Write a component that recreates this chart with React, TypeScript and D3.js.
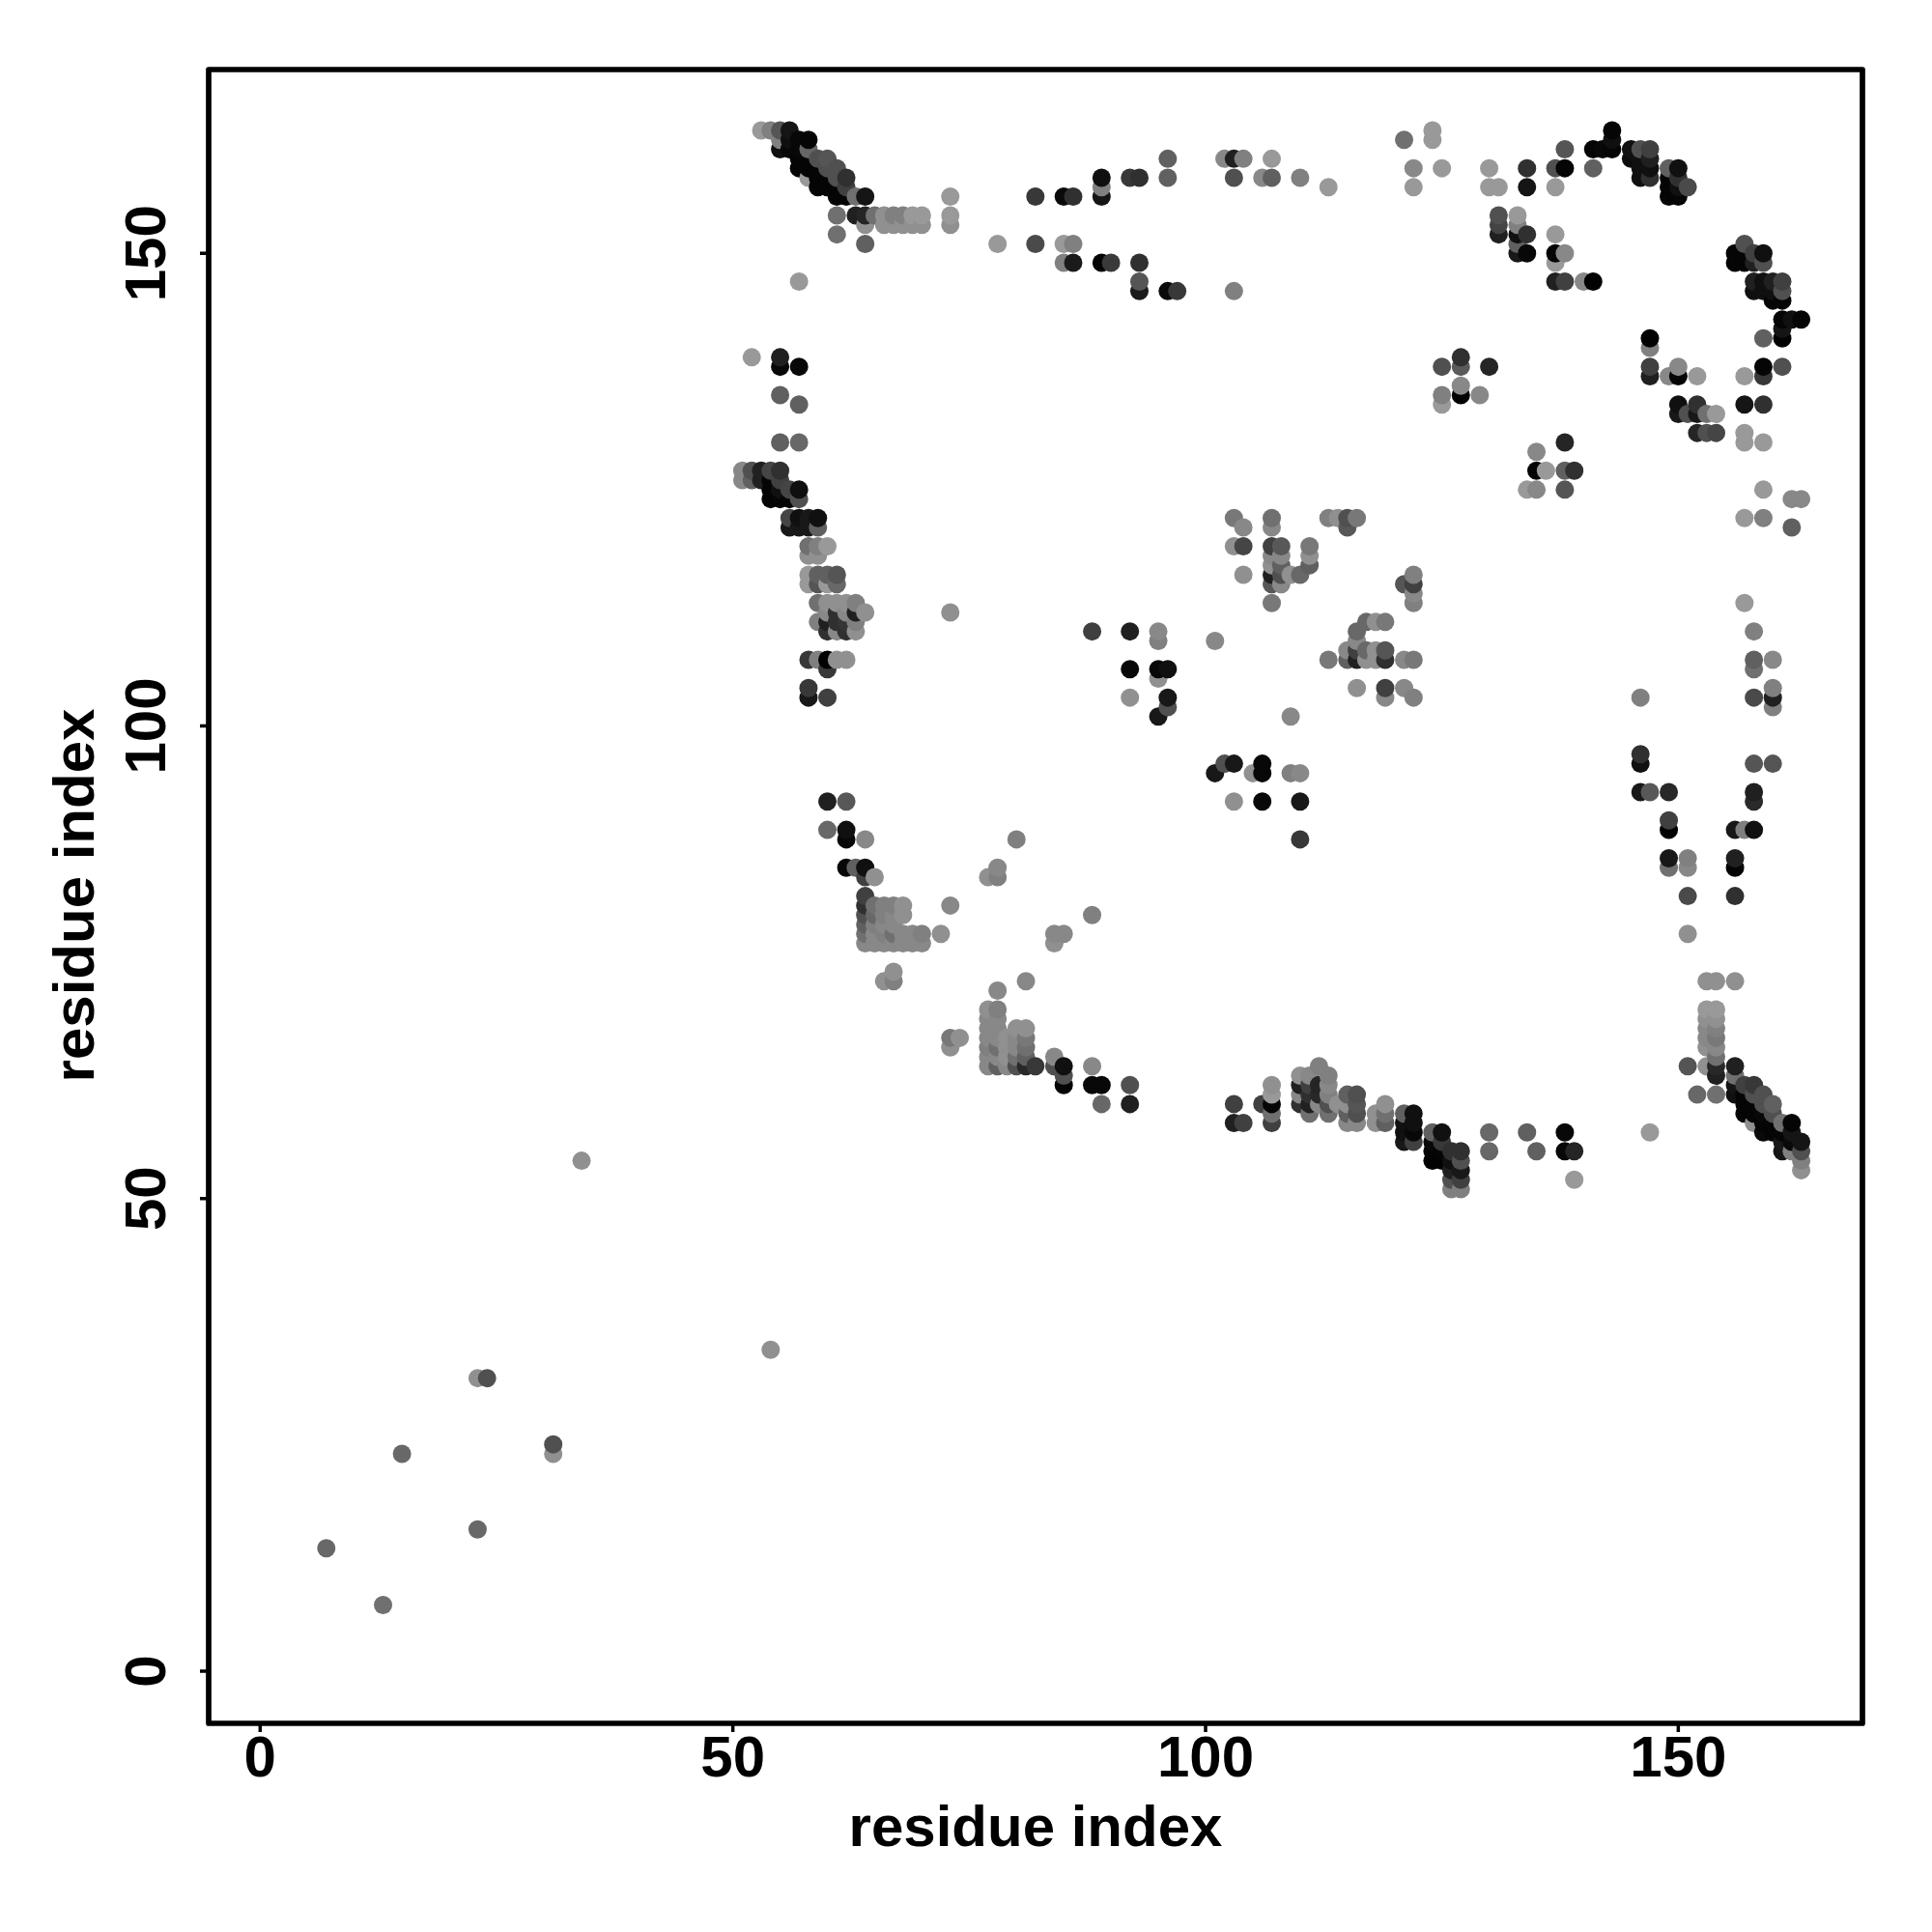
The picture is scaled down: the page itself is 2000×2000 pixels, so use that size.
import React from "react";
import * as d3 from "d3";

type Contact = [number, number, number]; // residue x, residue y, grey level

const tickValues = [0, 50, 100, 150];
const axisTitle = "residue index";

const lowerLeft: Contact[] = [
  [34,54,0x90],[54,34,0x90],[23,31,0x90],[24,31,0x50],[15,23,0x68],[31,24,0x50],[31,23,0x90],[23,15,0x68],[7,13,0x68],[13,7,0x70],
];

const topLeftArm: Contact[] = [
  [53,163,0x99],[54,163,0x80],[55,163,0x55],[56,163,0x15],
  [55,162,0x80],[56,162,0x10],[57,162,0x08],[58,162,0x05],
  [55,161,0x10],[56,161,0x08],[57,161,0x08],[58,161,0x66],
  [57,160,0x05],[58,160,0x05],[59,160,0x50],[60,160,0x55],
  [57,159,0x05],[58,159,0x05],[59,159,0x05],[60,159,0x50],[61,159,0x50],
  [58,158,0x99],[59,158,0x05],[60,158,0x05],[61,158,0x50],[62,158,0x30],
  [59,157,0x05],[60,157,0x05],[61,157,0x05],[62,157,0x40],
  [61,156,0x05],[62,156,0x05],[63,156,0x70],[64,156,0x15],
  [61,154,0x70],[63,154,0x20],[64,154,0x25],[65,154,0x70],[66,154,0x90],[67,154,0x80],[68,154,0x80],[69,154,0x99],[70,154,0x99],
  [64,153,0x90],[66,153,0x90],[67,153,0x90],[68,153,0x90],[69,153,0x90],[70,153,0x90],
  [61,152,0x70],[64,151,0x60],[57,147,0x99],
  [73,156,0x99],[73,154,0x99],[73,153,0x90],
];

const topMiddle: Contact[] = [
  [82,156,0x38],[85,156,0x0a],[86,156,0x30],[89,158,0x10],[89,157,0x80],[89,156,0x15],[92,158,0x38],[93,158,0x30],[96,160,0x60],[96,158,0x60],
  [78,151,0x99],[82,151,0x4a],[85,151,0x99],[86,151,0x80],[85,149,0x80],[86,149,0x1a],[89,149,0x05],[90,149,0x3a],[93,149,0x30],
  [93,147,0x55],[93,146,0x1a],[96,146,0x0a],[97,146,0x38],
  [102,160,0x88],[103,160,0x20],[104,160,0x80],[107,160,0x99],[103,158,0x50],[106,158,0x88],[107,158,0x60],[110,158,0x80],[113,157,0x99],[103,146,0x80],
  [122,157,0x99],[122,159,0x88],[125,159,0x99],[121,162,0x70],[124,162,0x99],[124,163,0x99],
];

const topRightArc: Contact[] = [
  [130,159,0x99],[130,157,0x99],[131,157,0x99],[134,159,0x30],[134,157,0x15],[137,159,0x50],[137,157,0x99],[138,159,0x05],[138,161,0x55],[141,159,0x60],
  [141,161,0x05],[142,161,0x08],[143,161,0x05],[143,162,0x10],[143,163,0x05],
  [145,161,0x10],[146,161,0x50],[147,161,0x40],[145,160,0x0c],[146,160,0x10],[147,160,0x20],[146,159,0x10],[147,159,0x10],[146,158,0x10],[147,158,0x30],
  [149,159,0x60],[150,159,0x10],[149,158,0x05],[150,158,0x30],[149,157,0x05],[150,157,0x10],[151,157,0x4a],[149,156,0x05],[150,156,0x05],
  [131,154,0x50],[133,154,0x99],[131,153,0x44],[133,153,0x80],[131,152,0x20],[133,152,0x10],[134,152,0x30],[137,152,0x99],[133,151,0x60],
  [133,150,0x18],[134,150,0x08],[137,150,0x05],[138,150,0x88],[137,149,0x99],[137,147,0x20],[138,147,0x40],[140,147,0x88],[141,147,0x02],
  [157,151,0x50],[156,150,0x05],[157,150,0x05],[158,150,0x40],[159,150,0x10],[156,149,0x05],[157,149,0x05],[158,149,0x20],[159,149,0x50],
  [158,147,0x20],[159,147,0x10],[160,147,0x20],[161,147,0x40],[158,146,0x10],[159,146,0x10],[160,146,0x10],[161,146,0x50],[160,145,0x05],[161,145,0x05],
  [161,143,0x05],[162,143,0x10],[163,143,0x05],[161,142,0x15],[147,141,0x02],[159,141,0x60],[161,141,0x02],[147,140,0x80],
];

const upperCentreRight: Contact[] = [
  [125,138,0x50],[127,139,0x30],[127,138,0x5a],[130,138,0x25],[127,136,0x88],[125,135,0x80],[127,135,0x02],[129,135,0x88],[125,134,0x99],
  [147,138,0x40],[150,138,0x88],[159,138,0x05],[161,138,0x50],[147,137,0x20],[149,137,0x88],[150,137,0x05],[152,137,0x99],[157,137,0x99],[159,137,0x38],
  [150,134,0x10],[152,134,0x30],[157,134,0x15],[159,134,0x30],[150,133,0x18],[151,133,0x50],[152,133,0x18],[153,133,0x70],[154,133,0x99],
  [152,131,0x25],[153,131,0x50],[154,131,0x45],[157,131,0x99],[138,130,0x25],[157,130,0x99],[159,130,0x99],[135,129,0x88],
  [135,127,0x02],[136,127,0x99],[138,127,0x60],[139,127,0x30],[134,125,0x99],[135,125,0x88],[138,125,0x55],
  [159,125,0x99],[162,124,0x88],[163,124,0x88],[157,122,0x99],[159,122,0x80],[162,121,0x60],
];

const leftColumn: Contact[] = [
  [52,139,0x99],[55,139,0x20],[55,138,0x08],[57,138,0x08],[55,135,0x60],[57,134,0x60],[55,130,0x60],[57,130,0x68],
  [51,127,0x88],[52,127,0x50],[53,127,0x20],[54,127,0x45],[55,127,0x30],
  [51,126,0x88],[52,126,0x60],[53,126,0x20],[54,126,0x05],[55,126,0x40],
  [54,125,0x05],[55,125,0x10],[56,125,0x45],[57,125,0x0f],[54,124,0x05],[55,124,0x05],[56,124,0x05],[57,124,0x50],
  [56,122,0x45],[57,122,0x10],[58,122,0x18],[59,122,0x10],[56,121,0x18],[57,121,0x18],[58,121,0x18],[59,121,0x60],
  [58,119,0x70],[59,119,0x80],[60,119,0x99],[58,118,0x90],[59,118,0x90],
  [58,116,0x99],[59,116,0x60],[60,116,0x60],[61,116,0x55],[58,115,0x99],[59,115,0x55],[60,115,0x99],[61,115,0x68],
  [59,113,0x70],[60,113,0x90],[61,113,0x90],[62,113,0x90],[63,113,0x80],
  [60,112,0x88],[61,112,0x30],[62,112,0x88],[63,112,0x20],[64,112,0x90],[73,112,0x90],
  [59,111,0x80],[60,111,0x20],[61,111,0x30],[62,111,0x35],[63,111,0x80],[60,110,0x30],[61,110,0x88],[62,110,0x30],[63,110,0x90],
  [58,107,0x38],[59,107,0x80],[60,107,0x02],[61,107,0x90],[62,107,0x90],[60,106,0x38],[58,104,0x38],[58,103,0x18],[60,103,0x40],
];

const centreCluster: Contact[] = [
  [103,122,0x78],[107,122,0x70],[113,122,0x80],[114,122,0x90],[115,122,0x50],[116,122,0x78],
  [104,121,0x88],[107,121,0x88],[115,121,0x58],
  [103,119,0x90],[104,119,0x45],[107,119,0x40],[108,119,0x58],[111,119,0x78],
  [107,118,0x88],[108,118,0x88],[111,118,0x90],[107,117,0x90],[108,117,0x60],[111,117,0x60],
  [104,116,0x90],[107,116,0x20],[108,116,0x50],[109,116,0x90],[110,116,0x68],[122,116,0x80],
  [107,115,0x58],[108,115,0x88],[121,115,0x55],[122,115,0x40],[122,114,0x88],[107,113,0x78],[122,113,0x80],
  [117,111,0x68],[118,111,0x90],[119,111,0x78],
  [88,110,0x40],[92,110,0x20],[95,110,0x88],[116,110,0x68],[95,109,0x80],[101,109,0x88],[116,109,0x88],
  [115,108,0x88],[116,108,0x40],[117,108,0x68],[118,108,0x90],[119,108,0x55],
  [113,107,0x78],[115,107,0x60],[116,107,0x20],[117,107,0x90],[118,107,0x90],[119,107,0x30],[121,107,0x88],[122,107,0x78],
  [92,106,0x08],[95,106,0x08],[96,106,0x10],[95,105,0x90],[116,104,0x90],[119,104,0x40],[121,104,0x88],
  [92,103,0x90],[96,103,0x18],[119,103,0x88],[122,103,0x80],[96,102,0x50],[95,101,0x18],[109,101,0x88],
  [102,96,0x50],[103,96,0x18],[106,96,0x08],[101,95,0x18],[105,95,0x90],[106,95,0x08],[109,95,0x80],[110,95,0x88],
  [103,92,0x90],[106,92,0x08],[110,92,0x18],[110,88,0x38],
];

const rightColumn: Contact[] = [
  [157,113,0x99],[158,110,0x80],[158,107,0x60],[160,107,0x88],[158,106,0x70],[160,104,0x80],[146,103,0x80],[158,103,0x4a],[160,103,0x20],[160,102,0x80],
  [146,97,0x30],[146,96,0x10],[158,96,0x55],[160,96,0x55],[146,93,0x18],[147,93,0x58],[149,93,0x28],[158,93,0x20],[158,92,0x2a],
  [149,90,0x40],[149,89,0x02],[156,89,0x18],[157,89,0x80],[158,89,0x10],[149,86,0x18],[151,86,0x80],[156,86,0x20],[149,85,0x70],[151,85,0x88],[156,85,0x05],
  [151,82,0x4a],[156,82,0x30],[151,78,0x90],
];

const lowerLeftBlock: Contact[] = [
  [60,92,0x20],[62,92,0x58],[60,89,0x68],[62,89,0x10],[62,88,0x08],[64,88,0x88],[80,88,0x80],
  [62,85,0x08],[63,85,0x60],[64,85,0x10],[78,85,0x88],[64,84,0x40],[65,84,0x90],[77,84,0x90],[78,84,0x80],[64,82,0x40],
  [64,81,0x30],[65,81,0x70],[66,81,0x80],[67,81,0x80],[68,81,0x90],[73,81,0x88],
  [64,80,0x50],[65,80,0x68],[66,80,0x80],[67,80,0x88],[68,80,0x90],[88,80,0x80],
  [64,79,0x60],[65,79,0x80],[66,79,0x88],[67,79,0x88],
  [64,78,0x70],[65,78,0x88],[66,78,0x80],[67,78,0x70],[68,78,0x88],[69,78,0x88],[70,78,0x80],[72,78,0x90],[84,78,0x88],[85,78,0x88],
  [64,77,0x88],[65,77,0x88],[66,77,0x88],[67,77,0x88],[68,77,0x88],[69,77,0x88],[70,77,0x88],[84,77,0x90],
  [67,74,0x90],[66,73,0x90],[67,73,0x80],[81,73,0x88],[78,72,0x88],
  [77,70,0x90],[78,70,0x80],[77,69,0x88],[78,69,0x88],[77,68,0x88],[78,68,0x88],[80,68,0x90],[81,68,0x90],
  [73,67,0x78],[74,67,0x90],[77,67,0x88],[78,67,0x88],[79,67,0x90],[80,67,0x88],[81,67,0x78],
  [73,66,0x90],[77,66,0x80],[78,66,0x70],[79,66,0x90],[80,66,0x88],[81,66,0x70],
  [77,65,0x88],[78,65,0x88],[79,65,0x90],[80,65,0x70],[81,65,0x60],[84,65,0x88],
  [77,64,0x88],[78,64,0x60],[79,64,0x88],[80,64,0x50],[81,64,0x28],[82,64,0x38],[84,64,0x50],[85,64,0x10],[88,64,0x88],
  [85,63,0x50],[85,62,0x05],[88,62,0x08],[89,62,0x08],[92,62,0x50],[89,60,0x68],[92,60,0x20],
];

const lowerMiddleBand: Contact[] = [
  [103,60,0x40],[106,60,0x40],[103,58,0x20],[104,58,0x40],[107,62,0x90],[107,61,0x99],[107,60,0x05],[107,59,0x70],[107,58,0x40],
  [112,64,0x80],[110,63,0x90],[111,63,0x88],[113,63,0x80],[110,62,0x20],[111,62,0x40],[112,62,0x25],[113,62,0x88],
  [110,61,0x88],[111,61,0x30],[112,61,0x28],[113,61,0x80],[110,60,0x30],[111,60,0x20],[112,60,0x88],[113,60,0x50],[114,60,0x90],[111,59,0x70],[113,59,0x70],
  [115,61,0x60],[116,61,0x50],[115,60,0x90],[116,60,0x55],[115,59,0x60],[116,59,0x50],[115,58,0x88],[116,58,0x88],
  [118,59,0x90],[119,60,0x90],[119,59,0x70],[118,58,0x90],[119,58,0x60],
  [121,59,0x60],[122,59,0x10],[121,58,0x10],[122,58,0x10],[121,57,0x10],[122,57,0x08],[121,56,0x18],[122,56,0x40],
  [124,57,0x60],[125,57,0x10],[124,56,0x08],[125,56,0x38],[124,55,0x05],[125,55,0x05],[126,55,0x30],[127,55,0x30],
  [124,54,0x02],[125,54,0x02],[126,54,0x10],[127,54,0x50],[126,53,0x20],[127,53,0x18],[126,52,0x50],[127,52,0x40],[126,51,0x80],[127,51,0x80],
  [130,57,0x68],[134,57,0x60],[138,57,0x08],[147,57,0x99],[130,55,0x68],[135,55,0x60],[138,55,0x08],[139,55,0x25],[139,52,0x99],
];

const lowerRightDiagonal: Contact[] = [
  [153,73,0x90],[154,73,0x90],[156,73,0x90],[153,70,0x99],[154,70,0x99],[153,69,0x90],[154,69,0x90],[153,68,0x88],[154,68,0x80],
  [153,67,0x88],[154,67,0x78],[153,66,0x90],[154,66,0x88],[154,65,0x70],[151,64,0x55],[153,64,0x90],[154,64,0x28],[156,64,0x20],
  [154,63,0x20],[156,63,0x70],[156,62,0x15],[157,62,0x40],[158,62,0x38],[152,61,0x68],[154,61,0x70],[156,61,0x10],[157,61,0x05],[158,61,0x50],[159,61,0x50],
  [157,60,0x05],[158,60,0x05],[159,60,0x50],[160,60,0x60],[157,59,0x05],[158,59,0x05],[159,59,0x08],[160,59,0x50],
  [158,58,0x90],[159,58,0x05],[160,58,0x05],[161,58,0x70],[162,58,0x05],[159,57,0x0a],[160,57,0x05],[161,57,0x05],[162,57,0x15],
  [161,56,0x18],[162,56,0x0a],[163,56,0x15],[161,55,0x15],[162,55,0x80],[163,55,0x50],[163,54,0x80],[163,53,0x90],
];

const contacts = [
  ...lowerLeft, ...topLeftArm, ...topMiddle, ...topRightArc, ...upperCentreRight, ...leftColumn,
  ...centreCluster, ...rightColumn, ...lowerLeftBlock, ...lowerMiddleBand, ...lowerRightDiagonal,
].sort((a, b) => d3.ascending(a[0], b[0]) || d3.ascending(a[1], b[1]));

const LEFT = 216, RIGHT = 1928, TOP = 72, BOTTOM = 1784;
const x = d3.scaleLinear().domain([-5.446, 169.48]).range([LEFT, RIGHT]);
const y = d3.scaleLinear().domain([-5.519, 169.44]).range([BOTTOM, TOP]);
const FONT = "'Liberation Sans', Arial, sans-serif";

export default function App() {
  return (
    <svg width={2000} height={2000} viewBox="0 0 2000 2000"
      style={{ position: "absolute", left: 0, top: 0, background: "#fff" }}>
      {contacts.map(([cx, cy, g], i) => (
        <circle key={i} cx={x(cx)} cy={y(cy)} r={9.5} fill={d3.rgb(g, g, g).formatHex()} />
      ))}
      <rect x={LEFT} y={TOP} width={RIGHT - LEFT} height={BOTTOM - TOP} fill="none" stroke="#000" strokeWidth={5.7} strokeLinejoin="round" />
      {tickValues.map((t) => (
        <g key={t}>
          <line x1={x(t)} x2={x(t)} y1={BOTTOM} y2={BOTTOM + 9} stroke="#000" strokeWidth={3.5} />
          <text x={x(t)} y={1839} textAnchor="middle" fontFamily={FONT} fontWeight={700} fontSize={60}>{t}</text>
          <line x1={LEFT - 9} x2={LEFT} y1={y(t)} y2={y(t)} stroke="#000" strokeWidth={3.5} />
          <text transform={`translate(171,${y(t)}) rotate(-90)`} textAnchor="middle" fontFamily={FONT} fontWeight={700} fontSize={60}>{t}</text>
        </g>
      ))}
      <text x={1072} y={1911} textAnchor="middle" fontFamily={FONT} fontWeight={700} fontSize={60}>{axisTitle}</text>
      <text transform="translate(97,927) rotate(-90)" textAnchor="middle" fontFamily={FONT} fontWeight={700} fontSize={60}>{axisTitle}</text>
    </svg>
  );
}
